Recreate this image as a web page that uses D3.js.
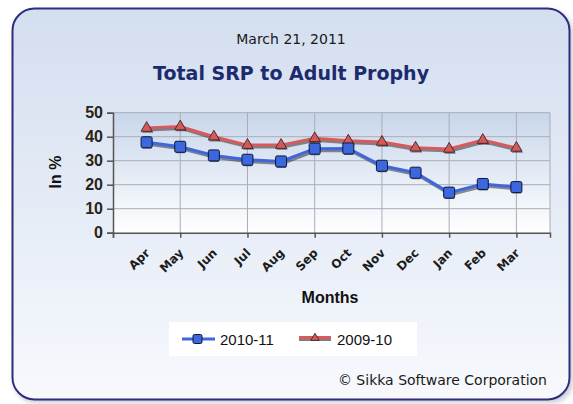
<!DOCTYPE html>
<html><head><meta charset="utf-8">
<script src="https://cdn.jsdelivr.net/npm/d3@7"></script>
<style>body{margin:0;background:#fff}svg{display:block}</style>
</head><body>
<script>
const months = ["Apr","May","Jun","Jul","Aug","Sep","Oct","Nov","Dec","Jan","Feb","Mar"];
const s2010 = [37.7,35.8,32.2,30.4,29.7,35.0,35.1,27.9,25.0,16.7,20.3,19.0];
const s2009 = [43.6,44.2,40.0,36.5,36.5,39.3,38.3,37.8,35.4,34.9,38.6,35.3];
const yTicks = [0,10,20,30,40,50];
const seriesNames = ["2010-11","2009-10"];

const W=573,H=404;
const svg=d3.select("body").append("svg").attr("width",W).attr("height",H);
const defs=svg.append("defs");
const g1=defs.append("linearGradient").attr("id","bg").attr("x1",0).attr("y1",0).attr("x2",0).attr("y2",1);
g1.append("stop").attr("offset","0%").attr("stop-color","#d3deef");
g1.append("stop").attr("offset","100%").attr("stop-color","#f7f9fd");
const g2=defs.append("linearGradient").attr("id","pbg").attr("x1",0).attr("y1",0).attr("x2",0).attr("y2",1);
g2.append("stop").attr("offset","0%").attr("stop-color","#c8d6eb");
g2.append("stop").attr("offset","100%").attr("stop-color","#ffffff");
const f=defs.append("filter").attr("id","sh").attr("x","-10%").attr("y","-10%").attr("width","130%").attr("height","130%");
f.append("feGaussianBlur").attr("stdDeviation",2.5);

// frame shadow and frame
svg.append("rect").attr("x",14).attr("y",11).attr("width",559).attr("height",392).attr("rx",22)
  .attr("fill","#9a9aa8").attr("opacity",0.5).attr("filter","url(#sh)");
svg.append("rect").attr("x",12.5).attr("y",8.5).attr("width",557).attr("height",391).attr("rx",22)
  .attr("fill","url(#bg)").attr("stroke","#2d2d7d").attr("stroke-width",2);

const x=d3.scaleLinear().domain([-1,12]).range([113,550]);
const y=d3.scaleLinear().domain([0,50]).range([232.7,112.7]);

// plot bg
svg.append("rect").attr("x",x(-1)).attr("y",y(50)).attr("width",x(12)-x(-1)).attr("height",y(0)-y(50)).attr("fill","url(#pbg)");

// grid
const grid=svg.append("g");
grid.selectAll("line.h").data(yTicks.filter(d=>d>0)).join("line")
  .attr("x1",x(-1)).attr("x2",x(12)).attr("y1",d=>y(d)).attr("y2",d=>y(d))
  .attr("stroke","#a9adb4").attr("stroke-width",1);
const vIdx=[1,3,5,7,9,11];
grid.selectAll("line.v").data(vIdx).join("line")
  .attr("x1",d=>x(d)).attr("x2",d=>x(d)).attr("y1",y(50)).attr("y2",y(0))
  .attr("stroke","#a9adb4").attr("stroke-width",1);
grid.append("line").attr("x1",x(12)).attr("x2",x(12)).attr("y1",y(50)).attr("y2",y(0)).attr("stroke","#a9adb4");

// axes
const yAxis=d3.axisLeft(y).tickValues(yTicks).tickSize(6).tickPadding(4);
const ya=svg.append("g").attr("transform",`translate(${x(-1)},0)`).call(yAxis);
ya.select(".domain").attr("stroke","#555").attr("stroke-width",1.5);
ya.selectAll(".tick line").attr("stroke","#555").attr("stroke-width",1.5);
ya.selectAll(".tick text").attr("font-family","Liberation Sans, Arial").attr("font-size",16).attr("font-weight","bold").attr("fill","#2a2418");

const xAxis=d3.axisBottom(x).tickValues([-1,...vIdx]).tickSize(5).tickFormat("");
const xa=svg.append("g").attr("transform",`translate(0,${y(0)})`).call(xAxis);
xa.select(".domain").attr("stroke","#555").attr("stroke-width",1.5);
xa.selectAll(".tick line").attr("stroke","#555").attr("stroke-width",1.5);

// x labels
svg.append("g").selectAll("text").data(months).join("text")
  .attr("transform",(d,i)=>`translate(${x(i)+4},${y(0)+21}) rotate(-45)`)
  .attr("text-anchor","end").attr("font-family","DejaVu Sans").attr("font-size",12).attr("font-weight","bold")
  .attr("fill","#1c1c1c").text(d=>d);

svg.append("text").attr("x",330).attr("y",303).attr("text-anchor","middle")
  .attr("font-family","Liberation Sans, Arial").attr("font-size",16).attr("font-weight","bold").attr("fill","#111").text("Months");
svg.append("text").attr("transform","translate(61,172) rotate(-90)").attr("text-anchor","middle")
  .attr("font-family","Liberation Sans, Arial").attr("font-size",16).attr("font-weight","bold").attr("fill","#111").text("In %");

// titles
svg.append("text").attr("x",291).attr("y",44).attr("text-anchor","middle")
  .attr("font-family","DejaVu Sans").attr("font-size",14).attr("fill","#1a1a1a").text("March 21, 2011");
svg.append("text").attr("x",291).attr("y",80).attr("text-anchor","middle")
  .attr("font-family","DejaVu Sans").attr("font-size",19).attr("font-weight","bold").attr("fill","#1c2a6e").text("Total SRP to Adult Prophy");

// series
const line=d3.line().x((d,i)=>x(i)).y(d=>y(d));
function drawSeries(data,color,marker){
  const gs=svg.append("g");
  gs.append("path").datum(data).attr("d",line).attr("fill","none").attr("stroke","#333").attr("stroke-opacity",0.55)
    .attr("stroke-width",3).attr("transform","translate(1.5,2)");
  gs.append("path").datum(data).attr("d",line).attr("fill","none").attr("stroke",color).attr("stroke-width",3);
  if(marker==="square"){
    gs.selectAll("rect.s").data(data).join("rect").attr("x",(d,i)=>x(i)-4.5).attr("y",d=>y(d)-3.5).attr("width",10).attr("height",10).attr("rx",1.5)
      .attr("fill","#222").attr("opacity",0.6);
    gs.selectAll("rect.m").data(data).join("rect").attr("x",(d,i)=>x(i)-5.5).attr("y",d=>y(d)-5.5).attr("width",11).attr("height",11).attr("rx",1.5)
      .attr("fill","#3b68dc").attr("stroke","#10163a").attr("stroke-width",1);
  } else {
    const tri=d3.symbol().type(d3.symbolTriangle).size(55);
    gs.selectAll("path.ts").data(data).join("path").attr("d",tri).attr("transform",(d,i)=>`translate(${x(i)+1},${y(d)+1.5})`)
      .attr("fill","#222").attr("opacity",0.55);
    gs.selectAll("path.tm").data(data).join("path").attr("d",tri).attr("transform",(d,i)=>`translate(${x(i)},${y(d)})`)
      .attr("fill","#d25a5a").attr("stroke","#3a1a1a").attr("stroke-width",0.8);
  }
}
drawSeries(s2009,"#d85a5a","tri");
drawSeries(s2010,"#3f66dc","square");

// legend
svg.append("rect").attr("x",169).attr("y",322).attr("width",248).attr("height",34).attr("fill","#fff");
const lg=svg.append("g");
lg.append("line").attr("x1",182).attr("x2",215).attr("y1",339).attr("y2",339).attr("stroke","#3f66dc").attr("stroke-width",3);
lg.append("rect").attr("x",193).attr("y",334.5).attr("width",9).attr("height",9).attr("rx",1.5).attr("fill","#3b68dc").attr("stroke","#10163a");
lg.append("text").attr("x",220).attr("y",344.5).attr("font-family","Liberation Sans, Arial").attr("font-size",15).attr("fill","#111").text(seriesNames[0]);
lg.append("line").attr("x1",299).attr("x2",331).attr("y1",337.5).attr("y2",337.5).attr("stroke","#d85a5a").attr("stroke-width",3);
lg.append("line").attr("x1",299).attr("x2",331).attr("y1",340).attr("y2",340).attr("stroke","#555").attr("stroke-width",1.5);
lg.append("path").attr("d",d3.symbol().type(d3.symbolTriangle).size(30)).attr("transform","translate(315,338)").attr("fill","#d25a5a").attr("stroke","#3a1a1a").attr("stroke-width",0.8);
lg.append("text").attr("x",337).attr("y",344.5).attr("font-family","Liberation Sans, Arial").attr("font-size",15).attr("fill","#111").text(seriesNames[1]);

svg.append("text").attr("x",547).attr("y",385).attr("text-anchor","end")
  .attr("font-family","DejaVu Sans").attr("font-size",14).attr("fill","#1a1a1a").text("© Sikka Software Corporation");
</script>
</body></html>
